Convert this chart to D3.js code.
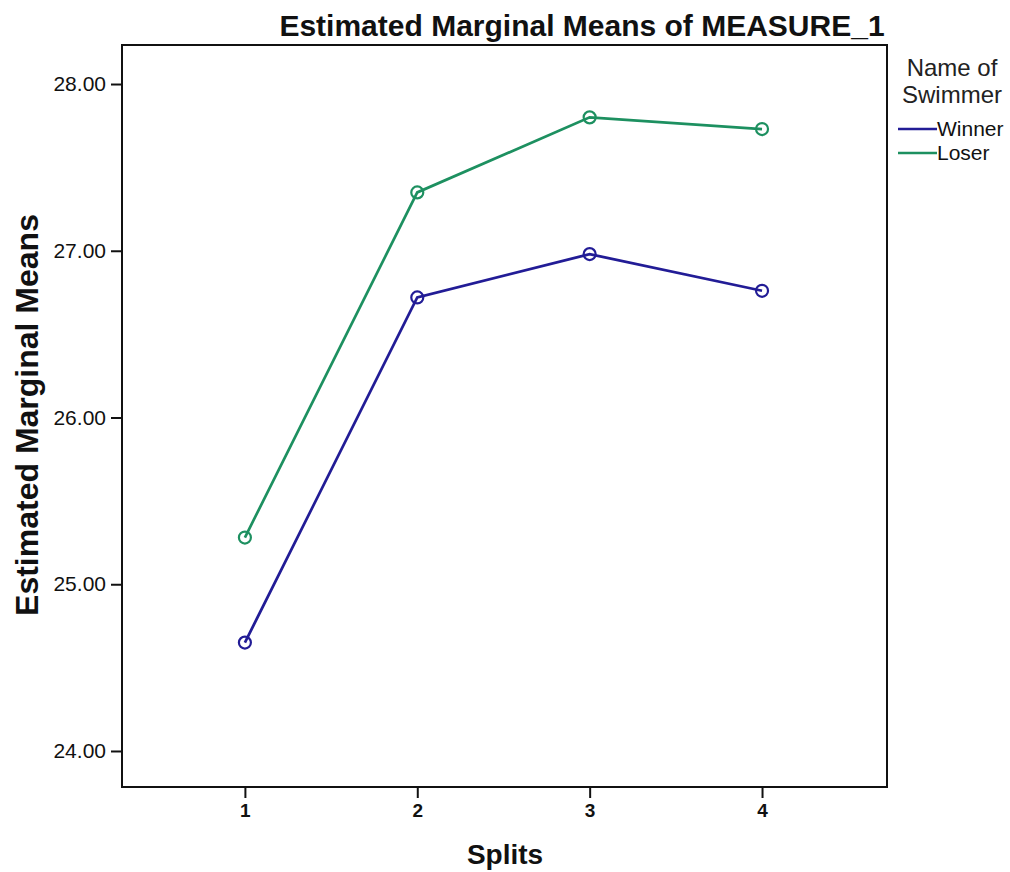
<!DOCTYPE html>
<html lang="en">
<head>
    <meta charset="UTF-8">
    <title>Estimated Marginal Means of MEASURE_1</title>
    <script src="https://d3js.org/d3.v7.min.js"></script>
    <style>
        body {
            margin: 0;
            background-color: white;
            font-family: "Liberation Sans", Arial, sans-serif;
        }
    </style>
</head>
<body>
    <div id="chart"></div>

    <script>
        // data
        const splits = [1, 2, 3, 4];
        const swimmers = ["Winner", "Loser"];
        const winnerMeans = [24.65, 26.72, 26.98, 26.76];
        const loserMeans = [25.28, 27.35, 27.80, 27.73];
        const yTicks = [24, 25, 26, 27, 28];

        const seriesColors = { Winner: "#221c96", Loser: "#1d9060" };

        const width = 1010, height = 872;
        const box = { left: 122, right: 887, top: 45, bottom: 787 };

        const svg = d3.select("#chart")
            .append("svg")
            .attr("width", width)
            .attr("height", height)
            .style("background-color", "white");

        const x = d3.scaleLinear()
            .domain([0.287, 4.725])
            .range([box.left, box.right]);

        const y = d3.scaleLinear()
            .domain([23.784, 28.234])
            .range([box.bottom, box.top]);

        // frame
        svg.append("rect")
            .attr("x", box.left)
            .attr("y", box.top)
            .attr("width", box.right - box.left)
            .attr("height", box.bottom - box.top)
            .attr("fill", "none")
            .attr("stroke", "#111")
            .attr("stroke-width", 2);

        // axes
        const yAxis = d3.axisLeft(y)
            .tickValues(yTicks)
            .tickFormat(d3.format(".2f"))
            .tickSize(11)
            .tickPadding(5);
        svg.append("g")
            .attr("transform", `translate(${box.left},0)`)
            .call(yAxis)
            .call(g => g.select(".domain").remove())
            .call(g => g.selectAll("line").attr("stroke", "#111").attr("stroke-width", 2))
            .call(g => g.selectAll("text")
                .attr("fill", "#111")
                .style("font-size", "21px")
                .style("font-family", "Liberation Sans, Arial, sans-serif"));

        const xAxis = d3.axisBottom(x)
            .tickValues(splits)
            .tickFormat(d3.format("d"))
            .tickSize(11)
            .tickPadding(6);
        svg.append("g")
            .attr("transform", `translate(0,${box.bottom})`)
            .call(xAxis)
            .call(g => g.select(".domain").remove())
            .call(g => g.selectAll("line").attr("stroke", "#111").attr("stroke-width", 2))
            .call(g => g.selectAll("text")
                .attr("fill", "#111")
                .style("font-size", "19px")
                .style("font-weight", "bold")
                .style("font-family", "Liberation Sans, Arial, sans-serif"));

        // lines and markers
        const series = [
            { name: "Winner", values: winnerMeans },
            { name: "Loser", values: loserMeans }
        ];

        const line = d3.line()
            .x((d, i) => x(splits[i]))
            .y(d => y(d));

        series.forEach(s => {
            svg.append("path")
                .datum(s.values)
                .attr("d", line)
                .attr("fill", "none")
                .attr("stroke", seriesColors[s.name])
                .attr("stroke-width", 2.7);

            svg.selectAll(".pt-" + s.name)
                .data(s.values)
                .enter()
                .append("circle")
                .attr("cx", (d, i) => x(splits[i]))
                .attr("cy", d => y(d))
                .attr("r", 6)
                .attr("fill", "none")
                .attr("stroke", seriesColors[s.name])
                .attr("stroke-width", 2.2);
        });

        // titles
        svg.append("text")
            .attr("x", 582)
            .attr("y", 36)
            .attr("text-anchor", "middle")
            .style("font-size", "30px")
            .style("font-weight", "bold")
            .attr("fill", "#111")
            .text("Estimated Marginal Means of MEASURE_1");

        svg.append("text")
            .attr("x", 505)
            .attr("y", 864)
            .attr("text-anchor", "middle")
            .style("font-size", "28px")
            .style("font-weight", "bold")
            .attr("fill", "#111")
            .text("Splits");

        svg.append("text")
            .attr("transform", "translate(38,415) rotate(-90)")
            .attr("text-anchor", "middle")
            .style("font-size", "32px")
            .style("font-weight", "bold")
            .attr("fill", "#111")
            .text("Estimated Marginal Means");

        // legend
        const legend = svg.append("g");
        legend.append("text")
            .attr("x", 952)
            .attr("y", 76)
            .attr("text-anchor", "middle")
            .style("font-size", "24px")
            .attr("fill", "#222")
            .text("Name of");
        legend.append("text")
            .attr("x", 952)
            .attr("y", 103)
            .attr("text-anchor", "middle")
            .style("font-size", "24px")
            .attr("fill", "#222")
            .text("Swimmer");

        swimmers.forEach((name, i) => {
            const ly = 129 + i * 24;
            legend.append("line")
                .attr("x1", 898)
                .attr("x2", 937)
                .attr("y1", ly)
                .attr("y2", ly)
                .attr("stroke", seriesColors[name])
                .attr("stroke-width", 2.5);
            legend.append("text")
                .attr("x", 937)
                .attr("y", ly + 7)
                .style("font-size", "21px")
                .attr("fill", "#111")
                .text(name);
        });
    </script>
</body>
</html>
